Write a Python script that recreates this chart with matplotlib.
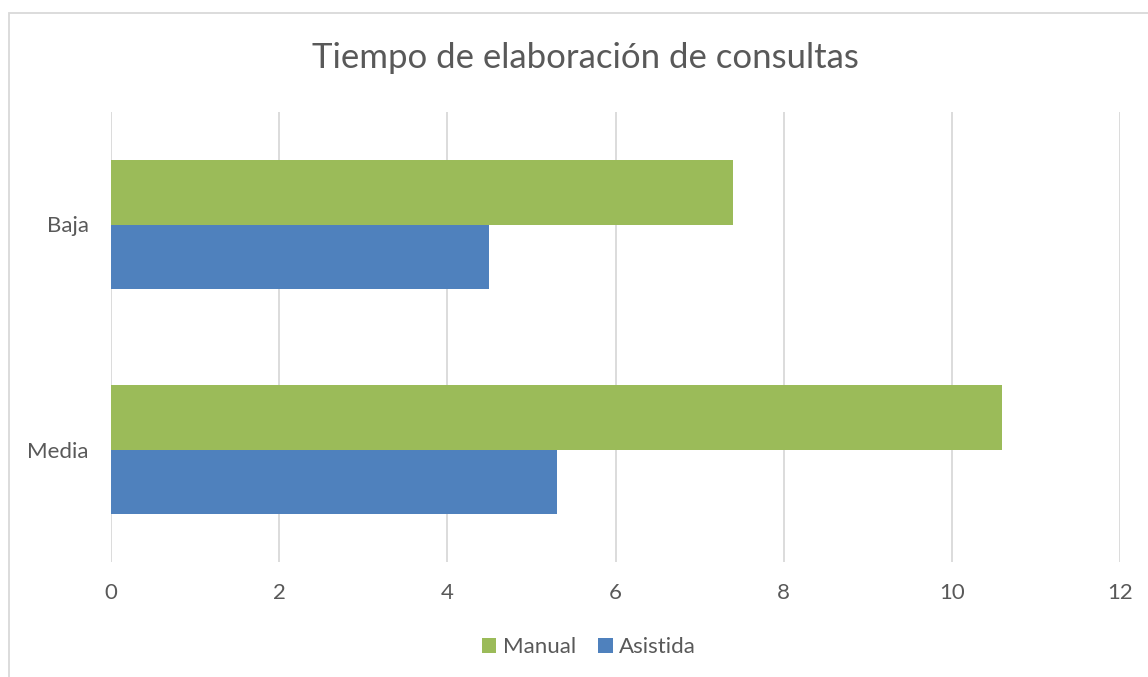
import matplotlib
matplotlib.use("Agg")
import matplotlib.pyplot as plt
from matplotlib.patches import Rectangle
import numpy as np

categories = ["Media", "Baja"]
series_names = ["Manual", "Asistida"]
manual = [10.6, 7.4]
asistida = [5.3, 4.5]
xticks = [0, 2, 4, 6, 8, 10, 12]

plt.rcParams['font.family'] = ['Lato', 'DejaVu Sans']
TEXT = '#595959'
GREEN = '#9BBB59'
BLUE = '#4F81BD'
GRID = '#D9D9D9'

W, H = 1148, 677
fig = plt.figure(figsize=(W / 100, H / 100), dpi=100)
fig.patches.append(Rectangle((9 / W, -0.1), 1.2, 1 - 13 / H + 0.1, transform=fig.transFigure,
                             fill=False, edgecolor=GRID, linewidth=1.3))

ax = fig.add_axes([111 / W, 1 - 562 / H, (1120 - 111) / W, (562 - 112) / H])
y = np.arange(len(categories))
h = 0.287
ax.barh(y + h / 2, manual, height=h, color=GREEN, label=series_names[0], zorder=3)
ax.barh(y - h / 2, asistida, height=h, color=BLUE, label=series_names[1], zorder=3)

ax.set_xlim(0, 12)
ax.set_ylim(-0.5, len(categories) - 0.5)
ax.set_xticks(xticks)
ax.set_xticklabels([str(t) for t in xticks])
ax.set_yticks(y)
ax.set_yticklabels(categories)
ax.tick_params(axis='both', length=0, labelsize=16, colors=TEXT)
ax.tick_params(axis='x', pad=15)
ax.tick_params(axis='y', pad=16)
ax.grid(axis='x', color=GRID, linewidth=1.3, zorder=0)
for s in ax.spines.values():
    s.set_visible(False)

fig.text(585 / W, 1 - 58 / H, "Tiempo de elaboración de consultas", ha='center', va='center',
         fontsize=25, color=TEXT)

leg = fig.legend(loc='center', bbox_to_anchor=(589 / W, 1 - 647 / H), ncol=2, frameon=False,
                 fontsize=16, handlelength=0.65, handleheight=0.65, handletextpad=0.3,
                 columnspacing=1.0, labelcolor=TEXT)

fig.savefig("out.png", dpi=100)
